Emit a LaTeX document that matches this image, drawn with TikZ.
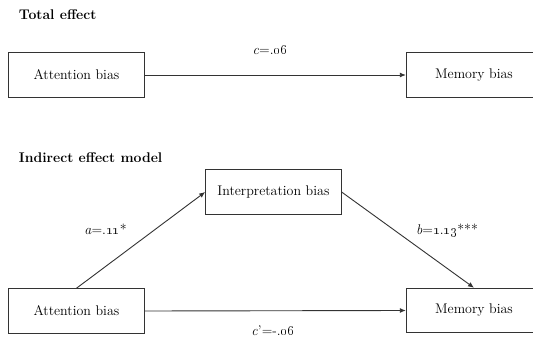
\documentclass[tikz,border=0pt]{standalone}
\usetikzlibrary{arrows.meta}
\begin{document}
\begin{tikzpicture}[x=1pt,y=-1pt,
  every node/.style={font=\fontsize{14}{16}\selectfont, text=black},
  varbox/.style={draw=black!80, line width=0.9pt, minimum width=135.5pt, minimum height=44.5pt, inner sep=0pt},
  title/.style={font=\fontsize{14}{16}\selectfont\bfseries, anchor=base west, inner sep=0pt},
  coef/.style={anchor=base, inner sep=0pt},
  path/.style={draw=black!80, line width=0.9pt, -{Latex[length=6pt,width=5pt]}}]
\useasboundingbox (0,0) rectangle (533,337);
\fill[white] (0,0) rectangle (533,337);
% Total effect
\node[title] (t1) at (18.7,19.3) {Total effect};
\node[varbox] (att1) at (76.4,75) {Attention bias};
\node[varbox] (mem1) at (474,75) {Memory bias};
\draw[path] (att1.east) -- (mem1.west);
\node[coef] (lc) at (270,54.4) {\textit{c}=.\oldstylenums{06}};
% Indirect effect model
\node[title] (t2) at (18.7,162) {Indirect effect model};
\node[varbox] (int) at (273.4,192) {Interpretation bias};
\node[varbox] (att2) at (76.4,311) {Attention bias};
\node[varbox] (mem2) at (474,310.5) {Memory bias};
\draw[path] (att2.north) -- (int.west);
\draw[path] (int.east) -- (mem2.north);
\draw[path] (att2.east) -- (mem2.west);
\node[coef] (la) at (105.5,234.5) {\textit{a}=.\oldstylenums{11}*};
\node[coef] (lb) at (447,234.5) {\textit{b}=\oldstylenums{1}.\oldstylenums{13}***};
\node[coef] (lcp) at (273,335) {\textit{c}'=-.\oldstylenums{06}};
\end{tikzpicture}
\end{document}
